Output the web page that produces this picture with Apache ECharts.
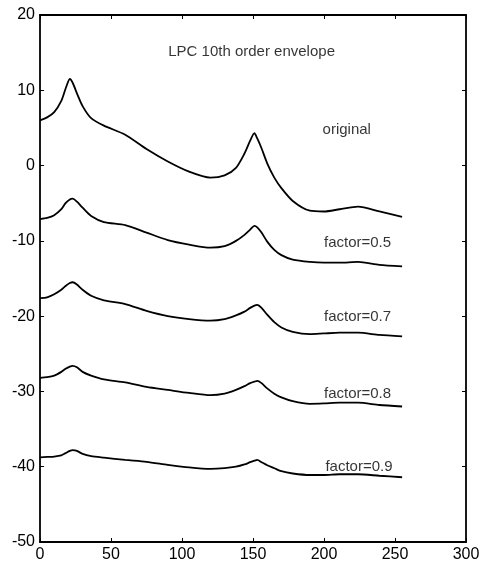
<!DOCTYPE html>
<html>
<head>
<meta charset="utf-8">
<title>LPC 10th order envelope</title>
<script src="https://cdn.jsdelivr.net/npm/echarts@6/dist/echarts.min.js"></script>
<style>
  html, body { margin: 0; padding: 0; background: #fff; }
  #chart { width: 487px; height: 573px; }
</style>
</head>
<body>
<div id="chart"></div>
<script>
// 频率点（横轴），五条曲线共用
const freq = [0, 5, 10, 15, 18, 21, 23, 26, 30, 36, 45, 60, 75, 90, 105, 120, 130, 138, 144, 148, 151, 153, 156, 160, 165, 170, 178, 190, 200, 211, 224, 239, 255];

// 各条包络（dB），从图上读出来的
const original = [6.0, 6.4, 7.1, 8.6, 10.2, 11.5, 11.0, 9.6, 7.9, 6.3, 5.3, 4.1, 2.2, 0.55, -0.8, -1.6, -1.3, -0.3, 1.6, 3.3, 4.3, 3.6, 2.3, 0.3, -1.6, -3.0, -4.7, -6.0, -6.1, -5.8, -5.45, -6.1, -6.8];
const factor05 = [-7.1, -6.95, -6.6, -5.8, -5.0, -4.5, -4.4, -4.8, -5.6, -6.7, -7.5, -7.9, -8.9, -9.9, -10.5, -10.9, -10.7, -10.0, -9.2, -8.5, -8.0, -8.2, -8.9, -10.1, -11.2, -11.9, -12.5, -12.8, -12.9, -12.9, -12.8, -13.2, -13.4];
const factor07 = [-17.6, -17.5, -17.1, -16.5, -16.0, -15.6, -15.5, -15.8, -16.5, -17.3, -17.9, -18.4, -19.3, -20.0, -20.4, -20.6, -20.4, -19.9, -19.4, -18.9, -18.6, -18.5, -18.9, -19.8, -20.8, -21.5, -22.1, -22.4, -22.3, -22.2, -22.2, -22.5, -22.7];
const factor08 = [-28.2, -28.1, -27.9, -27.4, -27.0, -26.7, -26.6, -26.8, -27.4, -27.9, -28.4, -28.8, -29.4, -29.8, -30.2, -30.5, -30.3, -29.8, -29.3, -28.9, -28.7, -28.6, -28.9, -29.6, -30.3, -30.8, -31.3, -31.65, -31.6, -31.5, -31.5, -31.8, -32.0];
const factor09 = [-38.75, -38.7, -38.65, -38.5, -38.2, -37.9, -37.8, -37.9, -38.3, -38.6, -38.8, -39.1, -39.35, -39.75, -40.1, -40.3, -40.2, -40.0, -39.7, -39.4, -39.2, -39.1, -39.4, -39.8, -40.2, -40.6, -40.9, -41.1, -41.1, -41.0, -41.0, -41.2, -41.4];

// 曲线旁边的文字（数据坐标）
const noteText = ['LPC 10th order envelope', 'original', 'factor=0.5', 'factor=0.7', 'factor=0.8', 'factor=0.9'];
const noteX = [149, 199, 200, 200, 200, 201];
const noteY = [15.1, 4.7, -10.3, -20.1, -30.3, -40.0];
const noteAlign = ['center', 'left', 'left', 'left', 'left', 'left'];

const FONT = '"Liberation Sans Narrow", "Arial Narrow", "Liberation Sans", sans-serif';

const pair = function(ys) {
  return freq.map(function(x, i) { return [x, ys[i]]; });
};

const line = function(name, ys) {
  return {
    name: name,
    type: 'line',
    data: pair(ys),
    smooth: 0.25,
    symbol: 'none',
    lineStyle: { color: '#000', width: 1.8 },
    z: 3,
  };
};

const tickIn = { show: true, inside: true, length: 4, lineStyle: { color: '#000', width: 1 } };
const frame = { show: true, onZero: false, lineStyle: { color: '#000', width: 1.8 } };
const tickLabel = { color: '#000', fontFamily: FONT, fontSize: 16, margin: 5 };

const chart = echarts.init(document.getElementById('chart'));
chart.setOption({
  backgroundColor: '#fff',
  animation: false,
  grid: { left: 40, right: 21, top: 15, bottom: 31, containLabel: false },
  xAxis: [
    {
      type: 'value', min: 0, max: 300, interval: 50, position: 'bottom',
      axisLine: frame, axisTick: tickIn, axisLabel: tickLabel, splitLine: { show: false },
    },
    {
      type: 'value', min: 0, max: 300, interval: 50, position: 'top',
      axisLine: frame, axisTick: tickIn, axisLabel: { show: false }, splitLine: { show: false },
    },
  ],
  yAxis: [
    {
      type: 'value', min: -50, max: 20, interval: 10, position: 'left',
      axisLine: frame, axisTick: tickIn, axisLabel: tickLabel, splitLine: { show: false },
    },
    {
      type: 'value', min: -50, max: 20, interval: 10, position: 'right',
      axisLine: frame, axisTick: tickIn, axisLabel: { show: false }, splitLine: { show: false },
    },
  ],
  series: [
    line('original', original),
    line('factor=0.5', factor05),
    line('factor=0.7', factor07),
    line('factor=0.8', factor08),
    line('factor=0.9', factor09),
    {
      name: 'notes',
      type: 'scatter',
      symbolSize: 0,
      silent: true,
      data: noteText.map(function(t, i) {
        return {
          value: [noteX[i], noteY[i]],
          label: {
            show: true,
            formatter: t,
            position: 'inside',
            align: noteAlign[i],
            verticalAlign: 'middle',
            color: '#000',
            fontFamily: FONT,
            fontSize: 15,
          },
        };
      }),
      z: 4,
    },
  ],
});
</script>
</body>
</html>
